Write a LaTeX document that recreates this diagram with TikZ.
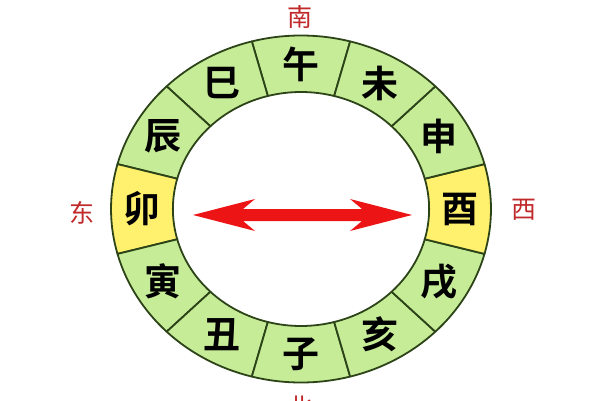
\documentclass[tikz,border=0pt]{standalone}
\usepackage{fontspec}
\newfontfamily\cjk{Noto Sans CJK SC}[BoldFont={Noto Sans CJK SC Bold}]
\definecolor{cellgreen}{HTML}{C6EC98}
\definecolor{cellyellow}{HTML}{FFF06E}
\definecolor{rimdark}{HTML}{2C4418}
\definecolor{dirred}{HTML}{C0282A}
\definecolor{arrowred}{HTML}{EC1414}

\begin{document}
\begin{tikzpicture}
[x=1pt,y=1pt,
 cell/.style={draw=rimdark,line width=1.8pt,line join=round},
 branch/.style={font=\cjk\bfseries\fontsize{37}{37}\selectfont,text=black},
 dir/.style={font=\cjk\fontsize{25}{25}\selectfont,text=dirred}]
\useasboundingbox (0,0) rectangle (600,400);
\coordinate (o) at (301,191);
\begin{scope}[shift={(o)},xscale=1.095]
\foreach \a/\c/\ch/\n in {90/cellgreen/午/wu,120/cellgreen/巳/si,150/cellgreen/辰/chen,
  180/cellyellow/卯/mao,210/cellgreen/寅/yin,240/cellgreen/丑/chou,270/cellgreen/子/zi,
  300/cellgreen/亥/hai,330/cellgreen/戌/xu,0/cellyellow/酉/you,30/cellgreen/申/shen,
  60/cellgreen/未/wei}
{
  \filldraw[cell,fill=\c] (\a-15:117) arc[start angle=\a-15,end angle=\a+15,radius=117]
    -- (\a+15:173.5) arc[start angle=\a+15,end angle=\a-15,radius=173.5] -- cycle;
  \node[branch] (\n) at (\a:145) {\ch};
}
\end{scope}
% directions
\node[dir] (nan) at (300,383) {南};
\node[dir] (dong) at (82,187) {东};
\node[dir] (xi) at (524,190) {西};
\node[dir] (bei) at (300,-7) {北};
% double arrow
\coordinate (al) at (193,185);
\coordinate (ar) at (412,185);
\fill[arrowred] (al) -- ([shift={(62,16)}]al) -- ([shift={(50,6)}]al)
  -- ([shift={(-50,6)}]ar) -- ([shift={(-62,16)}]ar) -- (ar)
  -- ([shift={(-62,-16)}]ar) -- ([shift={(-50,-6)}]ar)
  -- ([shift={(50,-6)}]al) -- ([shift={(62,-16)}]al) -- cycle;
\end{tikzpicture}
\end{document}
